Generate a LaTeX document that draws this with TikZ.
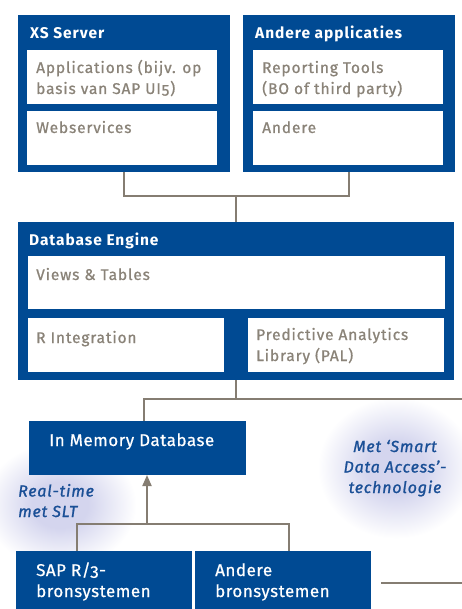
\documentclass[tikz,border=0pt]{standalone}
\usepackage{fontspec}
\setmainfont{Fira Sans}[Numbers=OldStyle]
\usetikzlibrary{arrows.meta}
\definecolor{sapblue}{HTML}{004A93}
\definecolor{txtgray}{HTML}{8A8378}
\definecolor{linegray}{HTML}{857D72}
\definecolor{itblue}{HTML}{1A4F96}
\definecolor{glow}{HTML}{D4D5EE}
\pgfdeclareradialshading{glowsh}{\pgfpoint{0bp}{0bp}}{color(0bp)=(glow); color(9bp)=(glow); color(24.5bp)=(white); color(50bp)=(white)}
\begin{document}
\begin{tikzpicture}[x=1pt,y=-1pt,
  bluebox/.style={fill=sapblue, draw=none, anchor=north west, inner sep=0pt, outer sep=0pt},
  whitebox/.style={fill=white, draw=none, anchor=north west, inner sep=0pt, outer sep=0pt},
  ttl/.style={text=white, font=\bfseries\fontsize{15.5}{18}\selectfont\addfontfeature{LetterSpace=6}, anchor=base west, inner sep=0pt},
  btxt/.style={text=white, font=\fontsize{17}{21}\selectfont\addfontfeature{LetterSpace=3,FakeBold=0.6}, anchor=base west, inner sep=0pt, align=left},
  gtxt/.style={text=txtgray, font=\fontsize{15.5}{21}\selectfont\addfontfeature{LetterSpace=5.5,FakeBold=0.8}, anchor=base west, inner sep=0pt, align=left},
  itxt/.style={text=itblue, font=\itshape\fontsize{16}{20.5}\selectfont\addfontfeature{LetterSpace=5,FakeBold=1.2}, inner sep=0pt},
  conn/.style={draw=linegray, line width=2pt},
]
\useasboundingbox (0,0) rectangle (462,609);
% glows
\shade[shading=glowsh] (60,505) ellipse (78 and 64);
\shade[shading=glowsh] (396,468) ellipse (80 and 72);

% XS Server
\node[bluebox, minimum width=212pt, minimum height=157pt] (xs) at (18,15) {};
\node[whitebox, minimum width=190pt, minimum height=54pt] (xsa) at (27,50) {};
\node[whitebox, minimum width=190pt, minimum height=54pt] (xsw) at (27,111) {};
\node[ttl] (xst) at (30,39) {XS Server};
\node[gtxt] (xsat) at (36,94) {Applications (bijv. op\\basis van SAP UI5)};
\node[gtxt] (xswt) at (36,133) {Webservices};

% Andere applicaties
\node[bluebox, minimum width=212pt, minimum height=157pt] (aa) at (243,15) {};
\node[whitebox, minimum width=190pt, minimum height=54pt] (aar) at (253,50) {};
\node[whitebox, minimum width=190pt, minimum height=54pt] (aao) at (253,111) {};
\node[ttl] (aat) at (255,39) {Andere applicaties};
\node[gtxt] (aart) at (262,94) {Reporting Tools\\(BO of third party)};
\node[gtxt] (aaot) at (262,133) {Andere};

% Database Engine
\node[bluebox, minimum width=436pt, minimum height=158pt] (db) at (18,222) {};
\node[whitebox, minimum width=417pt, minimum height=53pt] (dbv) at (28,256) {};
\node[whitebox, minimum width=196pt, minimum height=54pt] (dbr) at (28,318) {};
\node[whitebox, minimum width=196pt, minimum height=54pt] (dbp) at (248,318) {};
\node[ttl] (dbt) at (29,245) {Database Engine};
\node[gtxt] (dbvt) at (36,280) {Views \& Tables};
\node[gtxt] (dbrt) at (36,343) {R Integration};
\node[gtxt] (dbpt) at (256,361) {Predictive Analytics\\Library (PAL)};

% In Memory Database
\node[bluebox, minimum width=217pt, minimum height=54pt] (imd) at (29,421) {};
\node[btxt] (imdt) at (49,446) {In Memory Database};

% source systems
\node[bluebox, minimum width=176pt, minimum height=60pt] (sap) at (16,551) {};
\node[bluebox, minimum width=176pt, minimum height=60pt] (abs) at (195,551) {};
\node[btxt] (sapt) at (36,597) {SAP R/3-\\bronsystemen};
\node[btxt] (abst) at (215,597) {Andere\\bronsystemen};

% italic labels
\node[itxt, anchor=base west, align=left] (rt) at (18,517) {Real-time\\met SLT};
\node[itxt, anchor=base, align=center] (sda) at (395,493) {Met ‘Smart\\Data Access’-\\technologie};

% connectors
\coordinate (j1) at (236,196);
\draw[conn] (xs.south) -- (xs.south |- j1) -- (aa.south |- j1) -- (aa.south);
\draw[conn] (j1) -- (db.north);
\coordinate (j2) at (236,399);
\coordinate (k1) at (144,399);
\coordinate (re) at (462,399);
\draw[conn] (db.south) -- (j2);
\draw[conn] (re) -- (k1) -- (k1 |- imd.north);
\coordinate (j3) at (147,524);
\coordinate (s1) at (77,524);
\coordinate (s2) at (289,524);
\draw[conn] (s1 |- sap.north) -- (s1) -- (s2) -- (s2 |- abs.north);
\draw[conn, -{Triangle[width=9pt,length=11pt]}, linegray] (j3) -- (j3 |- imd.south);
\coordinate (r1) at (381,583);
\coordinate (r2) at (462,583);
\draw[conn] (r1) -- (r2);
\end{tikzpicture}
\end{document}
